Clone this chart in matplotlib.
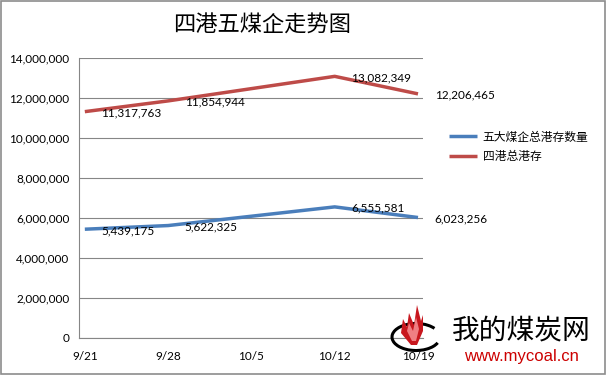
import matplotlib
matplotlib.use("Agg")
import matplotlib.pyplot as plt
from matplotlib.patches import Arc, Polygon, Rectangle

plt.rcParams['font.family'] = ['Lato', 'Noto Sans CJK SC', 'DejaVu Sans']

dates = ["9/21", "9/28", "10/5", "10/12", "10/19"]
x_pos = [0, 1, 3, 4]          # dates with data (10/5 has none)
five_coal = [5439175, 5622325, 6555581, 6023256]
four_ports = [11317763, 11854944, 13082349, 12206465]
series_names = ["五大煤企总港存数量", "四港总港存"]
title = "四港五煤企走势图"
yticks = [0, 2000000, 4000000, 6000000, 8000000, 10000000, 12000000, 14000000]

blue = "#4A7EBB"
red = "#BE4B48"
grid_c = "#868686"

fig = plt.figure(figsize=(6.06, 3.75), dpi=100)
ax = fig.add_axes([79/606, 1-338/375, (423-79)/606, (338-58)/375])

l1, = ax.plot(x_pos, five_coal, color=blue, lw=2.5, solid_capstyle='butt', zorder=3)
l2, = ax.plot(x_pos, four_ports, color=red, lw=2.5, solid_capstyle='butt', zorder=3)

for xs, ys in [(x_pos, five_coal), (x_pos, four_ports)]:
    for xv, yv in zip(xs, ys):
        ax.annotate(f"{yv:,}", (xv, yv), xytext=(12, -1), textcoords='offset points',
                    ha='left', va='center', fontsize=8.5, color='black', zorder=4)

ax.set_xlim(-0.07, 4.06)
ax.set_ylim(0, 14000000)
ax.set_yticks(yticks)
ax.set_yticklabels([f"{v:,}" for v in yticks], fontsize=8.5)
ax.set_xticks(range(len(dates)))
ax.set_xticklabels(dates, fontsize=8.5)
ax.tick_params(length=0, pad=7)
ax.tick_params(axis='x', pad=9)
ax.grid(axis='y', color=grid_c, lw=0.8)
ax.set_axisbelow(True)
for s in ['top', 'right']:
    ax.spines[s].set_visible(False)
for s in ['left', 'bottom']:
    ax.spines[s].set_color(grid_c)
    ax.spines[s].set_linewidth(0.8)

fig.text(262/606, 1-25/375, title, ha='center', va='center', fontsize=16,
         family=['Noto Sans CJK SC'], weight='medium')

leg = fig.legend([l1, l2], series_names, loc='upper left',
                 bbox_to_anchor=(438/606, 1-120/375), frameon=False,
                 prop={'family': ['Noto Sans CJK SC'], 'size': 8.5},
                 handlelength=2.4, handletextpad=0.5, labelspacing=0.55)

# figure border
fig.patches.append(Rectangle((0.0015, 0.002), 0.997, 0.996, transform=fig.transFigure,
                             fill=False, ec='#8c8c8c', lw=1.2))

# watermark logo (decoration)
lax = fig.add_axes([395/606, 0, 211/606, 72/375])
lax.set_xlim(0, 211)
lax.set_ylim(0, 72)
lax.axis('off')
lax.add_patch(Arc((21, 38), 48, 27, theta1=25, theta2=345, color='black', lw=2.2, clip_on=False))
lax.add_patch(Polygon([(16, 30), (6, 42), (8, 56), (12, 48), (14, 62), (19, 50), (22, 70),
                       (26, 54), (28, 60), (28, 44), (22, 30)],
                      closed=True, fc='#c8171e', ec='none', clip_on=False))
lax.add_patch(Polygon([(17, 34), (12, 44), (14, 52), (18, 44), (21, 58), (24, 46), (21, 34)],
                      closed=True, fc='#ef7f83', ec='none', clip_on=False))
lax.text(57, 45, "我的煤炭网", fontsize=20, family=['Noto Sans CJK SC'], va='center', ha='left', color='black')
lax.text(69, 19, "www.mycoal.cn", fontsize=12, family=['Liberation Sans'], va='center', ha='left', color='#cc0000')

fig.savefig("out.png", dpi=100)
